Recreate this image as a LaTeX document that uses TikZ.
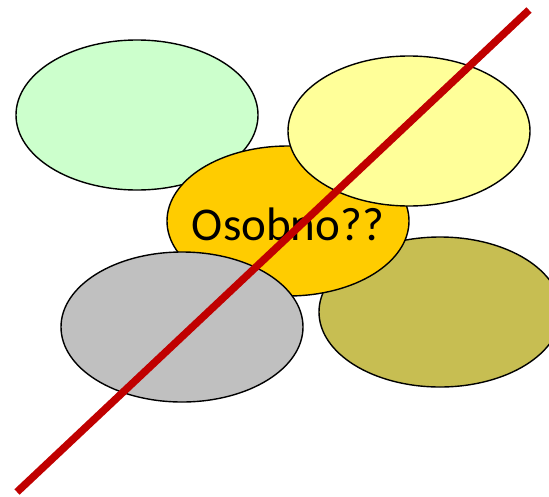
\documentclass[tikz,border=0pt]{standalone}
\usepackage{fontspec}
\setmainfont{Carlito}
\usetikzlibrary{shapes.geometric}

\definecolor{paleGreen}{RGB}{204,255,204}
\definecolor{paleYellow}{RGB}{255,255,153}
\definecolor{gold}{RGB}{255,204,0}
\definecolor{silver}{RGB}{192,192,192}
\definecolor{olive}{RGB}{199,190,82}
\definecolor{crossRed}{RGB}{192,0,0}

\begin{document}
\begin{tikzpicture}[
    x=1pt, y=-1pt,
    blob/.style={ellipse, draw=black, line width=1.4pt, minimum width=242pt, minimum height=150pt, inner sep=0pt},
    cross/.style={draw=crossRed, line width=7.5pt}
]
\useasboundingbox (0,0) rectangle (549,496);

% ==== Ellipses (back to front) ====
\node[blob, fill=paleGreen] (green) at (137,115) {};
\node[blob, fill=olive] (olive) at (440,312) {};
\node[blob, fill=gold] (centre) at (288,221) {};
\node[blob, fill=paleYellow] (yellow) at (409,131) {};
\node[blob, fill=silver] (grey) at (182,327) {};

% ==== Label ====
\node[font=\fontsize{47}{56}\selectfont] (label) at (288,224) {Osobno??};

% ==== Cross-out line ====
\coordinate (crossA) at (17,492);
\coordinate (crossB) at (529,10);
\draw[cross] (crossA) -- (crossB);

\end{tikzpicture}
\end{document}
